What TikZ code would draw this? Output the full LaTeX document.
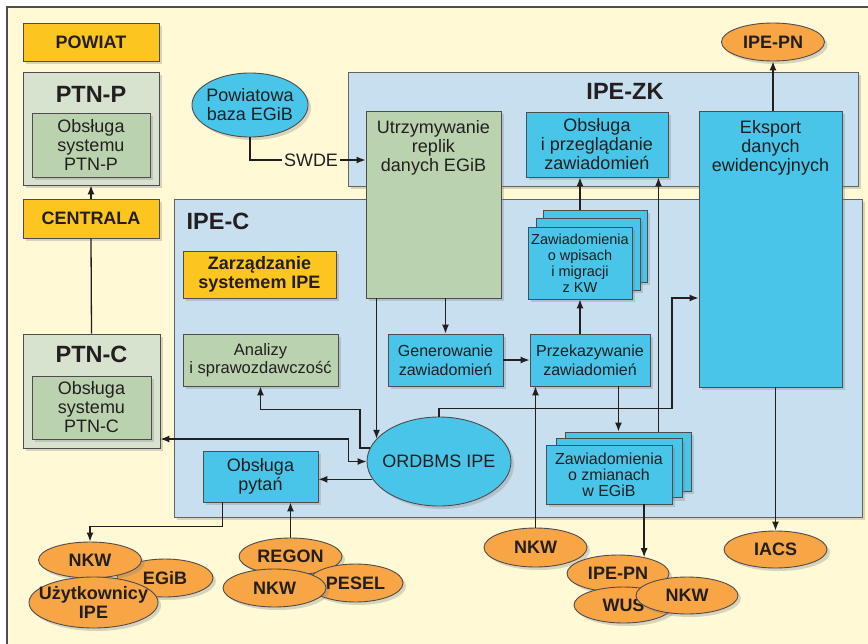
\documentclass[tikz,border=0pt]{standalone}
\usepackage{fontspec}
\setmainfont{Liberation Sans}
\usetikzlibrary{positioning,shapes.geometric,shadows,arrows.meta}

\definecolor{cream}{HTML}{FFF9D6}
\definecolor{gold}{HTML}{FDC520}
\definecolor{sage}{HTML}{D7E3CF}
\definecolor{leaf}{HTML}{BAD2AE}
\definecolor{pale}{HTML}{C8DFEF}
\definecolor{sky}{HTML}{48C5E8}
\definecolor{peach}{HTML}{F8A546}
\definecolor{ink}{HTML}{231F20}

\tikzset{
  shad/.style={drop shadow={opacity=.3,shadow xshift=3pt,shadow yshift=-3pt}},
  cont/.style={draw=ink!70,line width=.8pt,fill=pale,inner sep=0pt,shad},
  plate/.style={draw=ink!80,line width=.9pt,inner sep=0pt,shad,align=center,text=ink,font=\fontsize{18}{19}\selectfont},
  goldbox/.style={plate,fill=gold,font=\bfseries\fontsize{18}{19}\selectfont},
  sagebox/.style={plate,fill=sage},
  leafbox/.style={plate,fill=leaf},
  skybox/.style={plate,fill=sky},
  ell/.style={ellipse,draw=ink!80,line width=.9pt,inner sep=0pt,shad},
  peachell/.style={ell,fill=peach},
  txt/.style={inner sep=2pt,align=center,text=ink,font=\fontsize{18}{19}\selectfont},
  boldtxt/.style={txt,font=\bfseries\fontsize{18}{19}\selectfont},
  headline/.style={txt,font=\bfseries\fontsize{23.5}{26}\selectfont},
  wire/.style={draw=ink,line width=1.3pt},
  arr/.style={wire,-{Latex[length=9pt,width=7pt]}},
  dblarr/.style={wire,{Latex[length=9pt,width=7pt]}-{Latex[length=9pt,width=7pt]}}
}

\begin{document}
\begin{tikzpicture}[x=1pt,y=-1pt]
  \useasboundingbox (0,0) rectangle (868,643);
  \fill[white] (0,0) rectangle (868,643);
  \draw[fill=cream,draw=ink!80,line width=1.2pt] (7,7) rectangle (890,660);

  \node[cont,minimum width=510,minimum height=114] (ipezk) at (603,129) {};
  \node[headline] (ipezkt) at (625,91) {IPE-ZK};
  \node[cont,minimum width=688,minimum height=318] (ipec) at (518,358) {};
  \node[headline] (ipect) at (218,221) {IPE-C};

  \node[goldbox,minimum width=136,minimum height=38] (powiat) at (91,42) {POWIAT};
  \node[sagebox,minimum width=136,minimum height=113] (ptnp) at (91,128.5) {};
  \node[headline] (ptnpt) at (91,94) {PTN-P};
  \node[leafbox,minimum width=118,minimum height=64] (ptnpin) at (91,145) {Obsługa\\systemu\\PTN-P};
  \node[goldbox,minimum width=136,minimum height=39] (centrala) at (91,218.5) {CENTRALA};
  \node[sagebox,minimum width=137,minimum height=114] (ptnc) at (91.5,391) {};
  \node[headline] (ptnct) at (91.5,354) {PTN-C};
  \node[leafbox,minimum width=119,minimum height=63] (ptncin) at (91.5,407.5) {Obsługa\\systemu\\PTN-C};

  \node[ell,fill=sky,minimum width=116,minimum height=64,label={[txt]center:{Powiatowa\\baza EGiB}}] (baza) at (250,105) {};
  \node[txt] (swde) at (311,160) {SWDE};

  \node[leafbox,minimum width=135,minimum height=187] (utrz) at (433.5,204.5) {};
  \node[txt,below=8pt of utrz.north] (utrzt) {Utrzymywanie\\replik\\danych EGiB};
  \node[skybox,minimum width=142,minimum height=65] (obsl) at (597,144.5) {Obsługa\\i przeglądanie\\zawiadomień};
  \node[skybox,minimum width=143,minimum height=276] (eksport) at (770.5,249) {};
  \node[txt,below=8pt of eksport.north] (eksportt) {Eksport\\danych\\ewidencyjnych};
  \node[peachell,minimum width=103,minimum height=38,label={[boldtxt]center:IPE-PN}] (ipepn) at (773,42) {};

  \node[goldbox,minimum width=153,minimum height=47] (zarz) at (259.5,274.5) {Zarządzanie\\systemem IPE};
  \node[leafbox,minimum width=155,minimum height=52,font=\fontsize{16.5}{18}\selectfont] (analizy) at (260.5,360) {Analizy\\i sprawozdawczość};
  \node[skybox,minimum width=115,minimum height=52,font=\fontsize{16}{19}\selectfont] (gener) at (445.5,360) {Generowanie\\zawiadomień};
  \node[skybox,minimum width=120,minimum height=52,font=\fontsize{16}{19}\selectfont] (przek) at (590,360) {Przekazywanie\\zawiadomień};

  \node[skybox,minimum width=104,minimum height=72] (wpisc) at (595,246) {};
  \node[skybox,minimum width=104,minimum height=72] (wpisb) at (588,254) {};
  \node[skybox,minimum width=104,minimum height=72,font=\fontsize{14.5}{16}\selectfont] (wpis) at (580,263) {Zawiadomienia\\o wpisach\\i migracji\\z KW};
  \node[skybox,minimum width=126,minimum height=59] (zmianc) at (628,461.5) {};
  \node[skybox,minimum width=126,minimum height=59] (zmianb) at (619,468) {};
  \node[skybox,minimum width=126,minimum height=59,font=\fontsize{16}{16}\selectfont] (zmian) at (609,474.5) {Zawiadomienia\\o zmianach\\w EGiB};

  \node[ell,fill=sky,minimum width=144,minimum height=89,label={[txt]center:ORDBMS IPE}] (ordbms) at (439,461.5) {};
  \node[skybox,minimum width=115,minimum height=51] (pytan) at (260.5,476.5) {Obsługa\\pytań};

  \node[peachell,minimum width=96,minimum height=38,label={[boldtxt]center:EGiB}] (egib) at (165,578) {};
  \node[peachell,minimum width=103,minimum height=36,label={[boldtxt]center:NKW}] (nkwa) at (90,560) {};
  \node[peachell,minimum width=129,minimum height=51,label={[boldtxt]center:{Użytkownicy\\IPE}}] (uzyt) at (93.5,602.5) {};
  \node[peachell,minimum width=103,minimum height=37,label={[boldtxt]center:REGON}] (regon) at (290.5,556.5) {};
  \node[peachell,minimum width=95,minimum height=38,label={[boldtxt]center:PESEL}] (pesel) at (355.5,583) {};
  \node[peachell,minimum width=103,minimum height=38,label={[boldtxt]center:NKW}] (nkwc) at (274.5,588) {};
  \node[peachell,minimum width=103,minimum height=39,label={[boldtxt]center:NKW}] (nkwb) at (535.5,547.5) {};
  \node[peachell,minimum width=102,minimum height=37,label={[boldtxt]center:IPE-PN}] (ipepnb) at (618,573.5) {};
  \node[peachell,minimum width=99,minimum height=36,label={[boldtxt]center:WUS}] (wus) at (623.5,605) {};
  \node[peachell,minimum width=102,minimum height=37,label={[boldtxt]center:NKW}] (nkwd) at (687,595.5) {};
  \node[peachell,minimum width=103,minimum height=37,label={[boldtxt]center:IACS}] (iacs) at (775.5,549.5) {};

  \coordinate (zk) at ([xshift=-10pt]obsl.south east);
  \coordinate (pz) at ([xshift=-32pt]przek.south east);

  \draw[arr] (centrala.north) -- (ptnp.south);
  \draw[wire] (ptnc.north) -- (centrala.south);
  \draw[wire] (baza.south) |- (swde.west);
  \draw[arr] (swde.east) -- (swde.east -| utrz.west);
  \draw[arr] (eksport.north -| ipepn.south) -- (ipepn.south);
  \draw[arr] (utrz.south -| ordbms.160) -- (ordbms.160);
  \draw[arr] (utrz.south -| gener.north) -- (gener.north);
  \draw[arr] (gener.east) -- (przek.west);
  \draw[arr] (przek.north -| wpis.south) -- (wpis.south);
  \draw[arr] (wpisc.north -| wpis.south) -- (obsl.south -| wpis.south);
  \draw[arr] (zk |- zmianc.north) -- (zk);
  \draw[arr] (pz) -- (pz |- zmianc.north);
  \draw[arr] (zmian.south -| ipepnb.32) -- (ipepnb.32);
  \draw[arr] (nkwb.north) -- (nkwb.north |- przek.south);
  \draw[arr] (eksport.south -| iacs.north) -- (iacs.north);
  \draw[arr] (ordbms.north) |- ++(233,-8) |- ([yshift=-49pt]eksport.west);
  \draw[arr] (ordbms.169) -- ++(-10,0) |- ([yshift=-23pt]analizy.south) -- (analizy.south);
  \draw[dblarr] ([yshift=-48pt]ptnc.east) -| ([xshift=-18pt]ordbms.west) -- (ordbms.west);
  \draw[arr] (ordbms.195) -- (ordbms.195 -| pytan.east);
  \draw[arr] ([xshift=20pt]pytan.south west) -- ++(0,24) -| (nkwa.north);
  \draw[arr] (regon.north) -- (regon.north |- pytan.south);
\end{tikzpicture}
\end{document}
